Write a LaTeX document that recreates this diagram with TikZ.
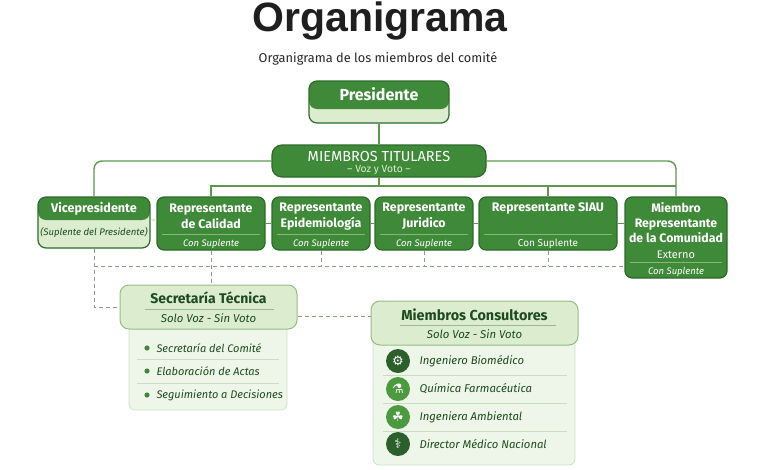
\documentclass[tikz,border=0pt]{standalone}
\usepackage{fontspec}
\setmainfont{Fira Sans}
\newfontfamily\titlefont{Liberation Sans}
\newfontfamily\symfont{DejaVu Sans}
\usetikzlibrary{arrows.meta}
\definecolor{gdark}{HTML}{2C6A2A}
\definecolor{gmid}{HTML}{3F8A38}
\definecolor{glight}{HTML}{DCEDCF}
\definecolor{gpale}{HTML}{EEF6E9}
\definecolor{gedge}{HTML}{93BD82}
\definecolor{gline}{HTML}{5A9A4A}
\definecolor{gdash}{HTML}{8E9C8A}
\definecolor{gtext}{HTML}{1E4A1E}
\definecolor{gsep}{HTML}{86B777}
\definecolor{gicon}{HTML}{2B5F2B}
\definecolor{giconb}{HTML}{4C9A40}
\begin{document}
\begin{tikzpicture}[x=1pt,y=-1pt,
  box/.style={draw=gdark, line width=1.2pt, fill=gmid, rounded corners=7pt},
  twotone/.style={draw=gdark, line width=1.2pt, fill=glight, rounded corners=8pt,
    path picture={\fill[gmid] (path picture bounding box.north west) rectangle ([yshift=-#1]path picture bounding box.north east);}},
  hbox/.style={draw=gedge, line width=1pt, fill=glight, rounded corners=9pt},
  panel/.style={draw=gedge!45, line width=0.8pt, fill=gpale, rounded corners=6pt},
  wtxt/.style={text=white, font=\bfseries\fontsize{12.4}{16}\selectfont, align=center},
  wsub/.style={text=white, font=\itshape\fontsize{9.5}{11}\selectfont},
  gtxt/.style={text=gtext, font=\bfseries\fontsize{14}{16}\selectfont},
  gsub/.style={text=gtext, font=\itshape\fontsize{11.4}{13}\selectfont},
  item/.style={text=gtext, font=\itshape\fontsize{11}{13}\selectfont, anchor=west},
  icon/.style={circle, fill=#1, minimum size=24pt, inner sep=0pt, text=white, font=\symfont\fontsize{13}{13}\selectfont},
  conn/.style={draw=gline, line width=1.4pt},
  dashln/.style={draw=gdash, line width=1pt, dash pattern=on 4pt off 3pt},
  wsep/.style={draw=gsep, line width=0.8pt},
  psep/.style={draw=gedge!50, line width=0.6pt}]

\useasboundingbox (0,0) rectangle (768,469);

\node[anchor=base, text=black!88, font=\titlefont\bfseries\fontsize{41}{41}\selectfont] (title) at (380,31) {Organigrama};
\node[anchor=base, text=black!85, font=\fontsize{12.8}{15}\selectfont] (subtitle) at (378,62) {Organigrama de los miembros del comité};

\node[twotone=28pt, minimum width=140pt, minimum height=42pt] (pres) at (379,102) {};
\node[text=white, font=\bfseries\fontsize{16}{18}\selectfont] (pres-t) at ([yshift=-14pt]pres.north) {Presidente};

\node[box, minimum width=214pt, minimum height=32pt, rounded corners=10pt] (tit) at (379,161) {};
\node[text=white, font=\fontsize{14.5}{16}\selectfont] (tit-t) at ([yshift=-12pt]tit.north) {MIEMBROS TITULARES};
\node[text=glight, font=\fontsize{10.3}{12}\selectfont] (tit-s) at ([yshift=-26pt]tit.north) {– Voz y Voto –};

\node[twotone=23pt, minimum width=112pt, minimum height=51pt] (vice) at (94,222.5) {};
\node[wtxt, font=\bfseries\fontsize{12.6}{15}\selectfont] (vice-t) at ([yshift=-12pt]vice.north) {Vicepresidente};
\node[text=gtext, font=\itshape\fontsize{9.6}{11}\selectfont] (vice-s) at ([yshift=-36pt]vice.north) {(Suplente del Presidente)};

\foreach \n/\cx/\w/\txt in {
  cal/211/108/{Representante\\de Calidad},
  epi/321/98/{Representante\\Epidemiología},
  jur/424/98/{Representante\\Juridico}} {
  \node[box, minimum width=\w pt, minimum height=53pt] (\n) at (\cx,223.5) {};
  \node[wtxt] (\n-t) at ([yshift=-20pt]\n.north) {\txt};
  \draw[wsep] ([xshift=6pt,yshift=16pt]\n.south west) -- ([xshift=-6pt,yshift=16pt]\n.south east);
  \node[wsub] (\n-s) at ([yshift=7pt]\n.south) {Con Suplente};
}

\node[box, minimum width=138pt, minimum height=53pt] (siau) at (548,223.5) {};
\node[wtxt] (siau-t) at ([yshift=-12pt]siau.north) {Representante SIAU};
\draw[wsep] ([xshift=6pt,yshift=16pt]siau.south west) -- ([xshift=-6pt,yshift=16pt]siau.south east);
\node[text=white, font=\fontsize{10}{11}\selectfont] (siau-s) at ([yshift=7pt]siau.south) {Con Suplente};

\node[box, minimum width=102pt, minimum height=81pt] (com) at (676,237.5) {};
\node[wtxt, font=\bfseries\fontsize{12.3}{15}\selectfont] (com-t) at ([yshift=-26pt]com.north) {Miembro\\Representante\\de la Comunidad};
\node[text=white, font=\fontsize{11}{12}\selectfont] (com-e) at ([yshift=-58pt]com.north) {Externo};
\draw[wsep] ([xshift=6pt,yshift=16pt]com.south west) -- ([xshift=-6pt,yshift=16pt]com.south east);
\node[wsub] (com-s) at ([yshift=7pt]com.south) {Con Suplente};

\coordinate (bus) at (0,186);
\coordinate (dbus) at (0,266);
\coordinate (sc) at (0,316);

\draw[conn] (pres.south) -- (tit.north);
\draw[conn, rounded corners=8pt] (tit.west) -| (vice.north);
\draw[conn, rounded corners=8pt] (tit.east) -| (com.north);
\draw[conn] (tit.south) -- (tit.south |- bus);
\draw[conn] (cal.north) |- (com.north |- bus);
\draw[conn] (siau.north) -- (siau.north |- bus);
\draw[conn] (cal.east) -- (epi.west);
\draw[conn] (epi.east) -- (jur.west);
\draw[conn] (jur.east) -- (siau.west);
\draw[conn] (siau.east) -- (com.west |- siau.east);
\draw[draw=glight, line width=1pt, {Stealth[length=4pt]}-{Stealth[length=4pt]}] ([yshift=3pt]vice.east) -- ([yshift=3pt]cal.west);

\node[panel, minimum width=158pt, minimum height=90pt] (secp) at (208,365) {};
\node[panel, minimum width=202pt, minimum height=130pt] (consp) at (474,400) {};

\node[hbox, minimum width=177pt, minimum height=44pt] (sec) at (208.5,307) {};
\node[gtxt] (sec-t) at ([yshift=-13pt]sec.north) {Secretaría Técnica};
\draw[psep, draw=gedge] ([xshift=25pt,yshift=20pt]sec.south west) -- ([xshift=-24pt,yshift=20pt]sec.south east);
\node[gsub] (sec-s) at ([yshift=11pt]sec.south) {Solo Voz - Sin Voto};

\node[hbox, minimum width=207pt, minimum height=44pt] (cons) at (474.5,323) {};
\node[gtxt, font=\bfseries\fontsize{14.4}{16}\selectfont] (cons-t) at ([yshift=-14pt]cons.north) {Miembros Consultores};
\draw[psep, draw=gedge] ([xshift=29pt,yshift=20pt]cons.south west) -- ([xshift=-23pt,yshift=20pt]cons.south east);
\node[gsub] (cons-s) at ([yshift=11pt]cons.south) {Solo Voz - Sin Voto};

\draw[dashln] (vice.south) |- (sec.west);
\draw[dashln] (vice.south |- dbus) -- (com.west |- dbus);
\draw[dashln] (cal.south) -- (cal.south |- sec.north);
\foreach \n in {epi,jur,siau}
  \draw[dashln] (\n.south) -- (\n.south |- dbus);
\draw[dashln] (sec.east |- sc) -- (cons.west |- sc);

\foreach \i/\y/\txt in {
  1/348/Secretaría del Comité,
  2/371/Elaboración de Actas,
  3/395/Seguimiento a Decisiones} {
  \fill[gmid] (147,\y) circle (2.6pt);
  \node[item] (s\i) at (153,\y) {\txt};
}
\draw[psep] (137,359.5) -- (279,359.5);
\draw[psep] (137,383) -- (279,383);

\foreach \i/\y/\col/\ic/\txt in {
  1/361/gicon/⚙/Ingeniero Biomédico,
  2/389/giconb/⚗/Química Farmacéutica,
  3/417/giconb/☘/Ingeniera Ambiental,
  4/444/gicon/⚕/Director Médico Nacional} {
  \node[icon=\col] (ic\i) at (398,\y) {\ic};
  \node[item, font=\itshape\fontsize{11.3}{13}\selectfont] (c\i) at (416,\y) {\txt};
}
\foreach \y in {375,403,431}
  \draw[psep] (383,\y) -- (567,\y);

\end{tikzpicture}
\end{document}
